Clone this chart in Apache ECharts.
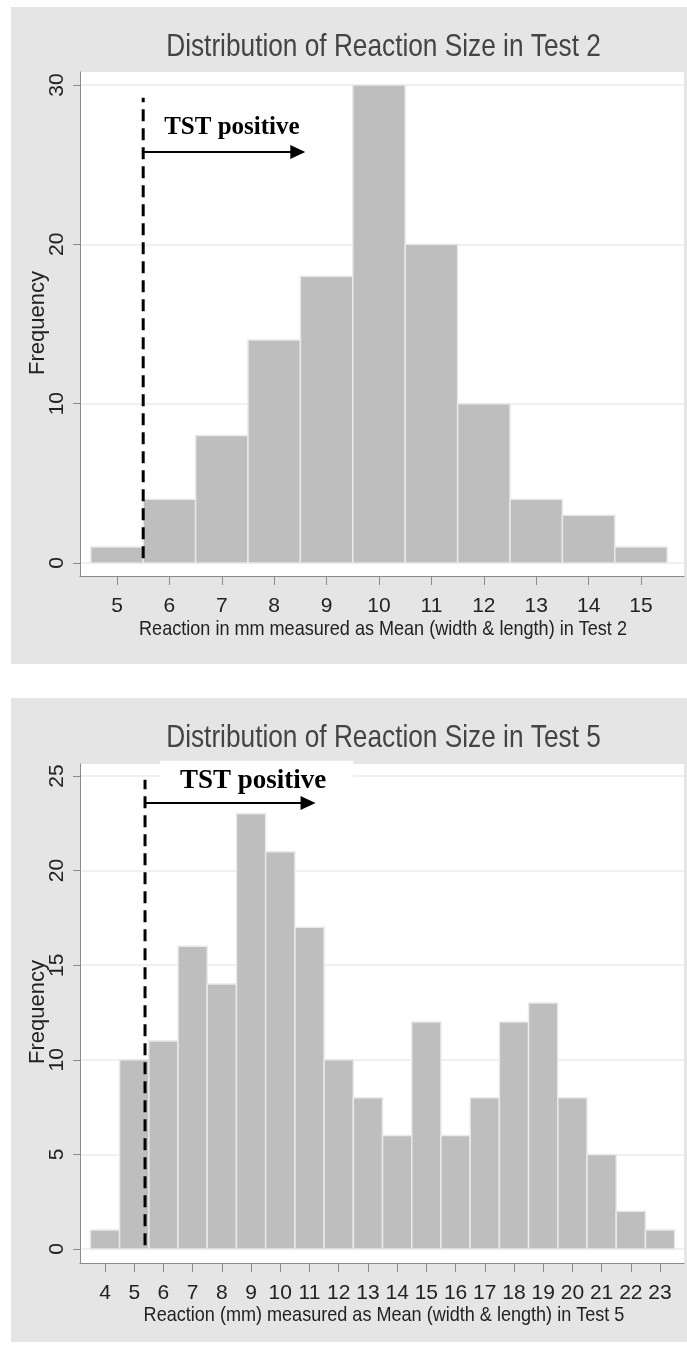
<!DOCTYPE html>
<html><head><meta charset="utf-8">
<script src="https://cdn.jsdelivr.net/npm/echarts@6/dist/echarts.min.js"></script>
<style>html,body{margin:0;padding:0;background:#fff}#c{width:687px;height:1347px}</style>
</head><body><div id="c"></div>
<script>
// ---- data ----
const title1 = 'Distribution of Reaction Size in Test 2';
const title2 = 'Distribution of Reaction Size in Test 5';
const xName1 = 'Reaction in mm measured as Mean (width & length) in Test 2';
const xName2 = 'Reaction (mm) measured as Mean (width & length) in Test 5';
const yName = 'Frequency';
const bins1 = [5, 6, 7, 8, 9, 10, 11, 12, 13, 14, 15];
const freq1 = [1, 4, 8, 14, 18, 30, 20, 10, 4, 3, 1];
const bins2 = [4, 5, 6, 7, 8, 9, 10, 11, 12, 13, 14, 15, 16, 17, 18, 19, 20, 21, 22, 23];
const freq2 = [1, 10, 11, 16, 14, 23, 21, 17, 10, 8, 6, 12, 6, 8, 12, 13, 8, 5, 2, 1];
const yTicks1 = [0, 10, 20, 30];
const yTicks2 = [0, 5, 10, 15, 20, 25];
const annoLabel = 'TST positive';
const cut1 = [[5.5, 0.3], [5.5, 29.2]];
const arrow1 = [[5.5, 25.8], [8.45, 25.8]];
const label1 = [5.9, 27.3];
const cut2 = [[5.37, 0.2], [5.37, 24.8]];
const arrow2 = [[5.37, 23.57], [10.95, 23.57]];
const label2 = [5.88, 24.75];

const FONT = 'Liberation Sans, Arial, sans-serif';
const chart = echarts.init(document.getElementById('c'), null, {renderer: 'canvas'});

function renderBar(params, api) {
  const x = api.value(0), v = api.value(1);
  const p0 = api.coord([x - 0.5, v]);
  const p1 = api.coord([x + 0.5, 0]);
  return {type: 'rect', shape: {x: p0[0], y: p0[1], width: p1[0] - p0[0], height: p1[1] - p0[1]},
    style: {fill: '#bebebe', stroke: '#e9e9e9', lineWidth: 1.5}};
}

function xAxis(idx, min, max, ticks) {
  return {type: 'value', gridIndex: idx, min: min, max: max,
    axisLine: {show: true, onZero: false, lineStyle: {color: '#8a8a8a', width: 1}},
    axisTick: {show: true, length: 9, customValues: ticks, lineStyle: {color: '#8a8a8a'}},
    axisLabel: {customValues: ticks, margin: 20, fontSize: 21, color: '#222', fontFamily: FONT},
    splitLine: {show: false}};
}
function yAxis(idx, min, max, ticks) {
  return {type: 'value', gridIndex: idx, min: min, max: max,
    axisLine: {show: true, onZero: false, lineStyle: {color: '#8a8a8a', width: 1}},
    axisTick: {show: true, length: 7, customValues: ticks, lineStyle: {color: '#8a8a8a'}},
    axisLabel: {customValues: ticks, rotate: 90, margin: 12, fontSize: 21, color: '#222', fontFamily: FONT},
    splitLine: {show: true, lineStyle: {color: '#ebebeb', width: 1.5}}};
}
function annoSeries(idx, cut, arrow, labelPos, fs, boxed) {
  return {type: 'line', xAxisIndex: idx, yAxisIndex: idx, data: cut, symbol: 'none', z: 5, clip: false,
    lineStyle: {color: '#000', width: 3, type: [12, 7]}, silent: true,
    markPoint: {silent: true, symbol: 'circle', symbolSize: 0,
      data: [{coord: labelPos}],
      label: {show: true, position: 'right', distance: 0, formatter: annoLabel,
        fontFamily: 'Liberation Serif, Times New Roman, serif', fontWeight: 'bold', fontSize: fs, color: '#000',
        backgroundColor: boxed ? '#fff' : 'transparent', padding: boxed ? [10, 27, 3, 20] : 0}},
    markLine: {silent: true, symbol: ['none', 'triangle'], symbolSize: [14, 15], z: 10,
      itemStyle: {color: '#000'},
      lineStyle: {color: '#000', width: 2, type: 'solid'}, label: {show: false},
      data: [[{coord: arrow[0]}, {coord: arrow[1]}]]}};
}
function txt(x, y, text, size, sx, rot, color) {
  return {type: 'text', x: x, y: y, scaleX: sx, rotation: rot || 0, z: 10,
    style: {text: text, fill: color || '#222', font: size + 'px ' + FONT, align: 'center', verticalAlign: 'middle'}};
}

chart.setOption({
  animation: false,
  backgroundColor: '#fff',
  graphic: [
    {type: 'rect', z: -10, shape: {x: 11, y: 7, width: 676, height: 657}, style: {fill: '#e5e5e5'}},
    {type: 'rect', z: -10, shape: {x: 11, y: 698, width: 676, height: 644}, style: {fill: '#e5e5e5'}},
    txt(383.5, 47, title1, 32, 0.82, 0, '#444'),
    txt(383.5, 738, title2, 32, 0.82, 0, '#444'),
    txt(383, 629, xName1, 21, 0.86),
    txt(384, 1315, xName2, 21, 0.86),
    txt(38, 323, yName, 22, 1, Math.PI / 2),
    txt(38, 1012, yName, 22, 1, Math.PI / 2)
  ],
  grid: [
    {left: 80, top: 72, width: 604, height: 504, show: true, backgroundColor: '#fff', borderWidth: 0},
    {left: 80, top: 764, width: 604, height: 499, show: true, backgroundColor: '#fff', borderWidth: 0}
  ],
  xAxis: [xAxis(0, 4.294, 15.82, bins1), xAxis(1, 3.144, 23.82, bins2)],
  yAxis: [yAxis(0, -0.816, 30.816, yTicks1), yAxis(1, -0.74, 25.634, yTicks2)],
  series: [
    {type: 'custom', xAxisIndex: 0, yAxisIndex: 0, renderItem: renderBar, encode: {x: 0, y: 1},
      data: bins1.map((b, i) => [b, freq1[i]]), z: 2},
    {type: 'custom', xAxisIndex: 1, yAxisIndex: 1, renderItem: renderBar, encode: {x: 0, y: 1},
      data: bins2.map((b, i) => [b, freq2[i]]), z: 2},
    annoSeries(0, cut1, arrow1, label1, 25, false),
    annoSeries(1, cut2, arrow2, label2, 27, true)
  ]
});
</script></body></html>
